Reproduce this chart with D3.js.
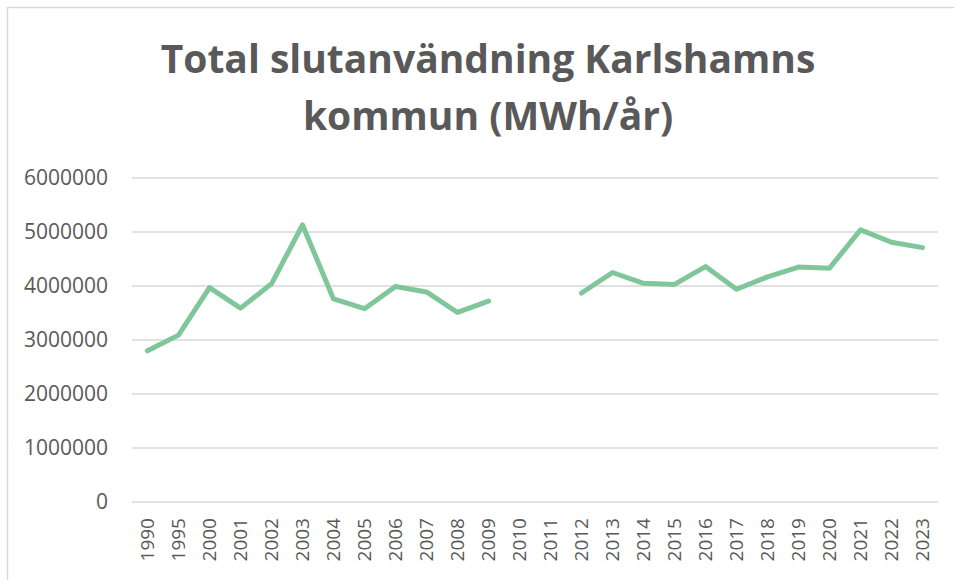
<!DOCTYPE html>
<html>
<head>
<meta charset="utf-8">
<script src="https://cdn.jsdelivr.net/npm/d3@7"></script>
<style>
  body { margin: 0; background: #fff; }
  svg { display: block; }
</style>
</head>
<body>
<div id="chart"></div>
<script>
// Data (MWh/year); 2010 and 2011 are missing
const years = ["1990", "1995", "2000", "2001", "2002", "2003", "2004", "2005", "2006", "2007", "2008", "2009",
    "2010", "2011", "2012", "2013", "2014", "2015", "2016", "2017", "2018", "2019", "2020", "2021", "2022", "2023"];
const usage = [2800000, 3090000, 3970000, 3590000, 4040000, 5130000, 3760000, 3580000, 3990000, 3890000, 3510000, 3720000,
    null, null, 3870000, 4250000, 4050000, 4030000, 4360000, 3940000, 4170000, 4350000, 4330000, 5040000, 4810000, 4710000];
const yTicks = [0, 1000000, 2000000, 3000000, 4000000, 5000000, 6000000];
const titleLines = ["Total slutanvändning Karlshamns", "kommun (MWh/år)"];

function drawLineChart() {
    const width = 954;
    const height = 580;
    const margin = { top: 178, right: 16, bottom: 78, left: 132 };

    const svg = d3.select("#chart")
        .append("svg")
        .attr("width", width)
        .attr("height", height);

    // chart area frame (only top/left edges visible in the crop)
    svg.append("rect")
        .attr("x", 7.5).attr("y", 7.5)
        .attr("width", 1000).attr("height", 1000)
        .attr("fill", "none")
        .attr("stroke", "#d9d9d9")
        .attr("stroke-width", 1.5);

    const x = d3.scaleBand()
        .domain(years)
        .range([margin.left, width - margin.right]);

    const y = d3.scaleLinear()
        .domain([0, 6000000])
        .range([height - margin.bottom, margin.top]);

    // Title
    svg.append("g")
        .selectAll("text")
        .data(titleLines)
        .enter()
        .append("text")
        .attr("x", 488)
        .attr("y", (d, i) => 73 + i * 57)
        .attr("text-anchor", "middle")
        .attr("font-family", "'Open Sans', sans-serif")
        .attr("font-weight", "bold")
        .attr("font-size", 39)
        .attr("fill", "#595959")
        .text(d => d);

    // Gridlines
    svg.append("g")
        .selectAll("line")
        .data(yTicks)
        .enter()
        .append("line")
        .attr("x1", margin.left)
        .attr("x2", width - margin.right)
        .attr("y1", d => y(d))
        .attr("y2", d => y(d))
        .attr("stroke", "#d9d9d9")
        .attr("stroke-width", 1.5);

    // Y axis labels
    const yAxis = svg.append("g")
        .attr("transform", `translate(${margin.left - 24}, 0)`)
        .call(d3.axisLeft(y).tickValues(yTicks).tickFormat(d3.format("d")).tickSize(0).tickPadding(0));
    yAxis.select(".domain").remove();
    yAxis.selectAll("text")
        .attr("font-family", "'Open Sans', sans-serif")
        .attr("font-size", 21)
        .attr("fill", "#595959");

    // X axis labels (rotated)
    const xAxis = svg.append("g")
        .attr("transform", `translate(0, ${height - margin.bottom})`)
        .call(d3.axisBottom(x).tickSize(0).tickPadding(0));
    xAxis.select(".domain").remove();
    xAxis.selectAll("text")
        .attr("font-family", "'Open Sans', sans-serif")
        .attr("font-size", 19)
        .attr("fill", "#595959")
        .attr("text-anchor", "end")
        .attr("dy", "0.35em")
        .attr("transform", "translate(0, 16) rotate(-90)")
        .attr("x", 0)
        .attr("y", 0);

    // Line
    const line = d3.line()
        .defined(d => d.value != null)
        .x(d => x(d.year) + x.bandwidth() / 2)
        .y(d => y(d.value));

    const points = years.map((year, i) => ({ year: year, value: usage[i] }));

    svg.append("path")
        .datum(points)
        .attr("d", line)
        .attr("fill", "none")
        .attr("stroke", "#7fc79a")
        .attr("stroke-width", 5)
        .attr("stroke-linejoin", "round")
        .attr("stroke-linecap", "round");
}

drawLineChart();
</script>
</body>
</html>
